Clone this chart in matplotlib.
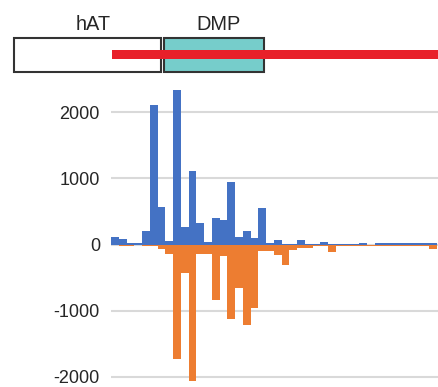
import matplotlib
matplotlib.use("Agg")
import matplotlib.pyplot as plt
from matplotlib.patches import Rectangle
import numpy as np

plt.rcParams['font.family'] = ['Liberation Sans', 'DejaVu Sans']

# ---- data ----
positions = list(range(42))
blue_values = [115, 85, 30, 30, 200, 2110, 570, 60, 2330, 260, 1115, 320, 35, 405,
               370, 940, 118, 205, 93, 545, 30, 65, 15, 15, 65, 15, 5, 40, 15, 15,
               15, 15, 30, 0, 20, 20, 20, 20, 20, 20, 20, 20]
orange_values = [0, -25, -25, 0, -25, -25, -70, -140, -1730, -425, -2060, -145, -145,
                 -840, -170, -1130, -650, -1215, -955, -100, -100, -160, -310, -80,
                 -50, -50, -20, -20, -110, -20, -20, -20, -20, -20, -20, -20, -20,
                 -20, -20, -20, -20, -60]
y_ticks = [-2000, -1000, 0, 1000, 2000]
y_tick_labels = ["-2000", "-1000", "0", "1000", "2000"]
domain_labels = ["hAT", "DMP"]

W, H = 438, 387
fig = plt.figure(figsize=(W / 100, H / 100), dpi=100)

# main bar axes
ax = fig.add_axes([111 / W, 0, 327 / W, (H - 85) / H])
ax.bar(positions, blue_values, width=1.0, color="#4472c4", zorder=3)
ax.bar(positions, orange_values, width=1.0, color="#ed7d31", zorder=3)
ax.set_xlim(-0.5, -0.5 + 327 / 7.75)
ax.set_ylim(-2152, 2410)
ax.set_yticks(y_ticks)
ax.set_yticklabels(y_tick_labels)
ax.yaxis.grid(True, color="#d9d9d9", linewidth=1.5, zorder=0)
ax.set_xticks([])
for s in ax.spines.values():
    s.set_visible(False)
ax.tick_params(axis="y", length=0, pad=8, labelsize=13, labelcolor="#262626")

# overlay for domain diagram (pixel coordinates)
ov = fig.add_axes([0, 0, 1, 1], zorder=5)
ov.set_xlim(0, W)
ov.set_ylim(H, 0)
ov.axis("off")
ov.patch.set_alpha(0)

ov.add_patch(Rectangle((14, 37.5), 146.5, 34, facecolor="white",
                       edgecolor="#333333", linewidth=1.5, zorder=2))
ov.add_patch(Rectangle((164, 37.5), 100, 34, facecolor="#76cdcb",
                       edgecolor="#333333", linewidth=1.5, zorder=2))
ov.add_patch(Rectangle((111.5, 49.5), W - 111.5 + 2, 9.8, facecolor="#e8202a",
                       edgecolor="none", linewidth=0, zorder=3))
ov.text(93, 29.5, domain_labels[0], ha="center", va="baseline", fontsize=14.4,
        color="#262626")
ov.text(218, 29.5, domain_labels[1], ha="center", va="baseline", fontsize=14.4,
        color="#262626")

fig.savefig("out.png", dpi=100)
